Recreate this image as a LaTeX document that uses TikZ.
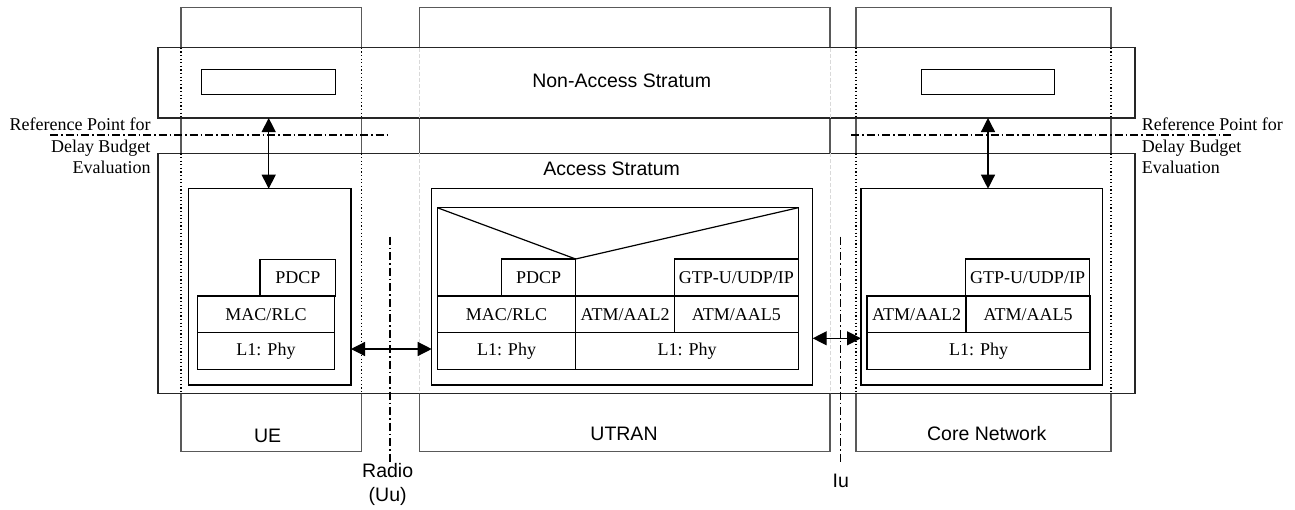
\documentclass[tikz,border=0pt]{standalone}
\usepackage{fontspec}
\setmainfont{Liberation Serif}
\newfontfamily\arialf{Liberation Sans}
\usetikzlibrary{arrows.meta,calc}
\newcommand\rbox[7]{\node[#1, minimum width={#4pt-#2pt}, minimum height={#5pt-#3pt}] (#6) at ({(#2+#4)/2},{(#3+#5)/2}) {#7};}
\begin{document}
\begin{tikzpicture}[x=1pt,y=-1pt,
  base/.style={inner sep=0pt, outer sep=0pt},
  colbox/.style={base, draw=black!65, line width=1.5pt, fill=white},
  band/.style={base, draw=black!85, line width=1.4pt, fill=white},
  blk/.style={base, draw=black, line width=1.3pt, fill=white},
  proto/.style={blk, font=\fontsize{18}{21}\selectfont},
  sans/.style={font=\arialf\fontsize{19.5}{24.4}\selectfont, inner sep=0pt, align=center},
  serif/.style={font=\fontsize{18}{21.3}\selectfont, inner sep=0pt},
  dotl/.style={line width=1.1pt, dash pattern=on 1.2pt off 2.4pt},
  greyl/.style={line width=0.8pt, draw=black!15, dash pattern=on 4pt off 2pt},
  refl/.style={line width=1.1pt, dash pattern=on 8pt off 3pt on 1.5pt off 3pt},
  arr/.style={line width=1.3pt, {Triangle[length=14pt,width=14pt]}-{Triangle[length=14pt,width=14pt]}}]
\useasboundingbox (0,0) rectangle (1295,509);
% columns
\rbox{colbox}{181}{7.3}{361.7}{451.7}{ue}{}
\rbox{colbox}{419.3}{7.3}{830}{451.7}{ut}{}
\rbox{colbox}{856}{7.3}{1111}{451.7}{cn}{}
% bands
\rbox{band}{158}{47.7}{1135}{118}{nas}{}
\rbox{band}{158}{153.3}{1135}{393.3}{as}{}
% dotted continuation of column sides inside the bands
\foreach \b in {nas,as}{
  \draw[dotl] (ue.north west |- \b.north) -- (ue.north west |- \b.south);
  \draw[dotl] (ue.north east |- \b.north) -- (ue.north east |- \b.south);
  \draw[dotl] (cn.north west |- \b.north) -- (cn.north west |- \b.south);
  \draw[dotl] (cn.north east |- \b.north) -- (cn.north east |- \b.south);
  \draw[greyl] (ut.north west |- \b.north) -- (ut.north west |- \b.south);
  \draw[greyl] (ut.north east |- \b.north) -- (ut.north east |- \b.south);
}
% band texts
\node[sans] (nastxt) at (621.7,81) {Non-Access Stratum};
\node[sans] (astxt) at (611.7,168.3) {Access Stratum};
% NAS inner boxes
\rbox{blk}{201.7}{69.3}{335.7}{94.3}{nasL}{}
\rbox{blk}{921.3}{69.3}{1054.7}{94.3}{nasR}{}
% reference lines
\coordinate (rl1) at (50,135); \coordinate (rl2) at (390,135);
\coordinate (rr1) at (851,135); \coordinate (rr2) at (1230.7,135);
\draw[refl] (rl1) -- (rl2);
\draw[refl] (rr1) -- (rr2);
\node[serif, anchor=east, align=right] (refL) at (150.7,146) {Reference Point for\\Delay Budget\\Evaluation};
\node[serif, anchor=west, align=left] (refR) at (1141.7,146) {Reference Point for\\Delay Budget\\Evaluation};
% UE stack
\rbox{blk}{188.3}{188.7}{351}{385}{ueinner}{}
\rbox{proto}{260}{259.3}{335.7}{296}{uepdcp}{PDCP}
\rbox{proto}{197.7}{296}{334.3}{332.3}{uemac}{MAC/RLC}
\rbox{proto}{197.7}{332.3}{334.3}{369.3}{uel1}{L1: Phy}
% UTRAN stack
\rbox{blk}{431.7}{188.7}{812.7}{385}{utinner}{}
\rbox{blk}{437.3}{207.7}{798.3}{369.3}{utstack}{}
\rbox{proto}{501.7}{259}{575.7}{296}{utpdcp}{PDCP}
\rbox{proto}{674.3}{259}{798.3}{296}{utgtp}{GTP-U/UDP/IP}
\rbox{proto}{437.3}{296}{575.7}{332.3}{utmac}{MAC/RLC}
\rbox{proto}{575.7}{296}{674.3}{332.3}{utaal2}{ATM/AAL2}
\rbox{proto}{674.3}{296}{798.3}{332.3}{utaal5}{ATM/AAL5}
\rbox{proto}{437.3}{332.3}{575.7}{369.3}{utl1a}{L1: Phy}
\rbox{proto}{575.7}{332.3}{798.3}{369.3}{utl1b}{L1: Phy}
\draw[line width=1.2pt] (utstack.north west) -- (utpdcp.north east) -- (utstack.north east);
% CN stack
\rbox{blk}{861}{188.7}{1102.3}{385}{cninner}{}
\rbox{proto}{965.7}{259}{1089.3}{296}{cngtp}{GTP-U/UDP/IP}
\rbox{proto}{867}{296}{966}{332.3}{cnaal2}{ATM/AAL2}
\rbox{proto}{966}{296}{1090}{332.3}{cnaal5}{ATM/AAL5}
\rbox{proto}{867}{332.3}{1090}{369.3}{cnl1}{L1: Phy}
% interface lines
\coordinate (ra1) at (390,236.7); \coordinate (ra2) at (390,461.7);
\coordinate (iu1) at (840.7,236.7); \coordinate (iu2) at (840.7,461.7);
\draw[refl] (ra1) -- (ra2);
\draw[refl] (iu1) -- (iu2);
% arrows
\draw[arr] (nasL.center |- nas.south) -- (nasL.center |- ueinner.north);
\draw[arr] (nasR.center |- nas.south) -- (nasR.center |- cninner.north);
\coordinate (uuy) at (0,349);
\coordinate (iuy) at (0,338.3);
\draw[arr] (ueinner.east |- uuy) -- (utinner.west |- uuy);
\draw[arr] (utinner.east |- iuy) -- (cninner.west |- iuy);
% labels
\node[sans] (uelab) at (267.7,436) {UE};
\node[sans] (utlab) at (624,434) {UTRAN};
\node[sans] (cnlab) at (986.7,433.5) {Core Network};
\node[sans] (radlab) at (387.7,484.5) {Radio\\(Uu)};
\node[sans] (iulab) at (840.7,481) {Iu};
\end{tikzpicture}
\end{document}
